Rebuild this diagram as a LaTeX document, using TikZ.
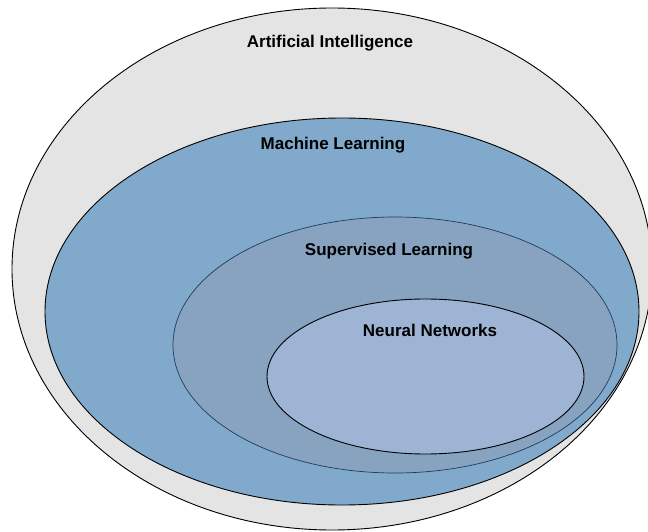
\documentclass[tikz,border=0pt]{standalone}
\usepackage{fontspec}
\setmainfont{Liberation Sans}
\usetikzlibrary{shapes.geometric}
\definecolor{aigray}{HTML}{E4E4E4}
\definecolor{mlblue}{HTML}{80A9CB}
\definecolor{slblue}{HTML}{87A3C0}
\definecolor{slline}{HTML}{1E3D5C}
\definecolor{nnblue}{HTML}{9EB4D4}
\begin{document}
\begin{tikzpicture}[x=1pt, y=-1pt,
    set node/.style={ellipse,draw=black,line width=0.9pt,inner sep=0pt},
    set label/.style={font=\fontsize{17}{20}\selectfont\bfseries}]
    \useasboundingbox (0,0) rectangle (648,532);

    \node[set node,fill=aigray,minimum width=640pt,minimum height=522pt] (ai) at (332,269) {};
    \node[set node,fill=mlblue,minimum width=594pt,minimum height=387pt] (ml) at (342,311.5) {};
    \node[set node,fill=slblue,draw=slline,line width=0.7pt,minimum width=444pt,minimum height=256pt] (sl) at (395,345) {};
    \node[set node,fill=nnblue,minimum width=317pt,minimum height=155pt] (nn) at (425.5,376.5) {};

    \node[set label] (ai label) at (330,43) {Artificial Intelligence};
    \node[set label] (ml label) at (333,145) {Machine Learning};
    \node[set label] (sl label) at (389,251) {Supervised Learning};
    \node[set label] (nn label) at (430,330) {Neural Networks};
\end{tikzpicture}
\end{document}
